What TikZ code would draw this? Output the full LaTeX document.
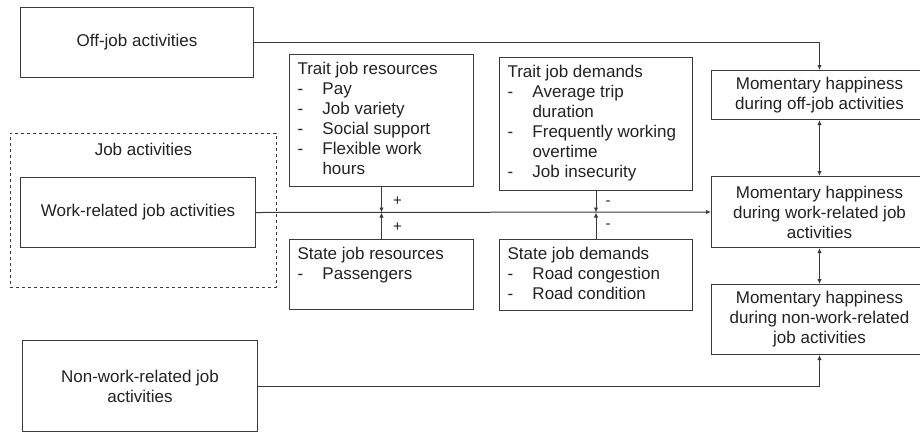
\documentclass[tikz,border=0pt]{standalone}
\usepackage{fontspec}
\setmainfont{Liberation Sans}
\usetikzlibrary{arrows.meta, calc}

\definecolor{linecol}{HTML}{3A3A3A}
\definecolor{textcol}{HTML}{222222}

\newcommand{\itm}{\makebox[25pt][l]{-}}
\newcommand{\gap}{\hspace*{25pt}}

\tikzset{
  box/.style={draw=linecol, line width=1pt, text=textcol, anchor=north west,
    font=\fontsize{17}{20}\selectfont},
  midbox/.style={box, align=center, inner sep=0pt},
  listbox/.style={box, inner xsep=8pt, inner ysep=8pt},
  groupbox/.style={draw=linecol, line width=0.9pt, dashed, anchor=north west, inner sep=0pt},
  sign/.style={text=textcol, font=\fontsize{15}{18}\selectfont, inner sep=0pt},
  link/.style={draw=linecol, line width=1pt, -{Latex[length=5pt,width=4.5pt]}},
  twoway/.style={draw=linecol, line width=1pt, {Latex[length=5pt,width=4.5pt]}-{Latex[length=5pt,width=4.5pt]}}
}

\begin{document}
\begin{tikzpicture}[x=1pt, y=-1pt]

        \useasboundingbox (0,0) rectangle (920,432);

        % Job activities group
        \node[groupbox, minimum width=266pt, minimum height=154pt] (jobs) at (10,133) {};
        \node[text=textcol, font=\fontsize{17}{20}\selectfont] (jobslabel) at ($(jobs.north)+(0,16)$) {Job activities};

        % Activities
        \node[midbox, minimum width=233pt, minimum height=70pt] (offjob) at (20,7) {Off-job activities};
        \node[midbox, minimum width=235pt, minimum height=70pt] (work) at (20,177) {Work-related job activities};
        \node[midbox, minimum width=235pt, minimum height=91pt] (nonwork) at (22,340) {Non-work-related job\\activities};

        % Resources and demands
        \node[listbox] (tjr) at (289,54) {\parbox[c][116pt][t]{168pt}{Trait job resources\\
          \itm Pay\\ \itm Job variety\\ \itm Social support\\ \itm Flexible work\\ \gap hours}};
        \node[listbox] (sjr) at (289,239) {\parbox[c][54pt][t]{168pt}{State job resources\\
          \itm Passengers}};
        \node[listbox] (tjd) at (499,57) {\parbox[c][117pt][t]{177pt}{Trait job demands\\
          \itm Average trip\\ \gap duration\\ \itm Frequently working\\ \gap overtime\\ \itm Job insecurity}};
        \node[listbox] (sjd) at (499,239) {\parbox[c][55pt][t]{177pt}{State job demands\\
          \itm Road congestion\\ \itm Road condition}};

        % Momentary happiness
        \node[midbox, minimum width=216pt, minimum height=49pt] (hapoff) at (711,70) {Momentary happiness\\during off-job activities};
        \node[midbox, minimum width=216pt, minimum height=71pt] (hapwork) at (711,176) {Momentary happiness\\during work-related job\\activities};
        \node[midbox, minimum width=216pt, minimum height=70pt] (hapnon) at (711,284) {Momentary happiness\\during non-work-related\\job activities};

        % Main paths
        \draw[link] (offjob.east) -| (hapoff.north);
        \draw[link] (work.east) -- (hapwork.west);
        \draw[link] (nonwork.east) -| (hapnon.south);

        % Moderators
        \coordinate (resmeet) at (tjr.south |- work.east);
        \coordinate (demmeet) at (tjd.south |- work.east);
        \draw[link] (tjr.south) -- (resmeet);
        \draw[link] (sjr.north) -- (resmeet);
        \draw[link] (tjd.south) -- (demmeet);
        \draw[link] (sjd.north) -- (demmeet);
        \node[sign] (tjrsign) at ($(resmeet)+(16,-11)$) {+};
        \node[sign] (sjrsign) at ($(resmeet)+(16,15)$) {+};
        \node[sign] (tjdsign) at ($(demmeet)+(12,-9)$) {-};
        \node[sign] (sjdsign) at ($(demmeet)+(12,14)$) {-};

        % Between happiness states
        \draw[twoway] (hapoff.south) -- (hapwork.north);
        \draw[twoway] (hapwork.south) -- (hapnon.north);

\end{tikzpicture}
\end{document}
